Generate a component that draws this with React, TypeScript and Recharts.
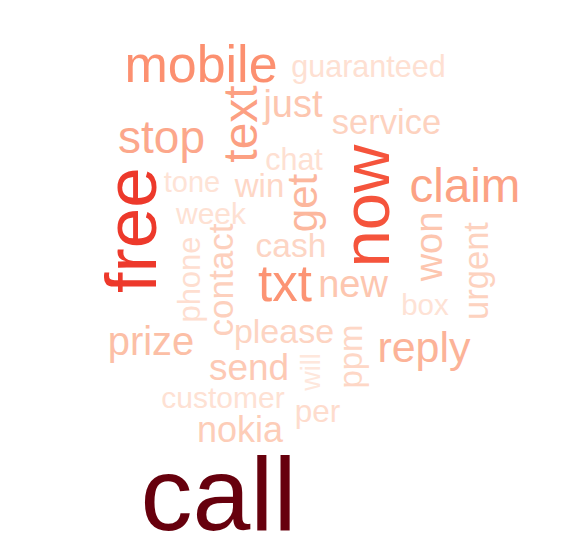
import React from "react";
import { ScatterChart, Scatter, XAxis, YAxis } from "recharts";

// word cloud content
const words = [
  "call", "free", "now", "mobile", "txt", "text", "claim", "stop", "reply", "get",
  "prize", "just", "new", "won", "send", "nokia", "contact", "service", "urgent", "please",
  "cash", "win", "ppm", "per", "phone", "guaranteed", "chat", "customer", "week", "box",
  "tone", "will",
];
// relative frequency weight of each word
const frequency = [
  104, 73, 67, 52, 51, 48, 47.5, 46, 43, 42,
  40, 38, 38, 38, 37, 36, 35, 34.5, 34.5, 34,
  33.5, 33, 33, 31.5, 31, 30.5, 30.5, 30, 30, 29.5,
  29, 27,
];
// placement of each word in the cloud (layout coordinates)
const placeX = [
  218.5, 156, 389, 201, 285, 257, 465, 161.5, 424, 317,
  151, 293, 353, 442, 249, 240, 233, 386.5, 488, 284,
  291, 259.5, 362, 317.5, 200, 368.5, 294, 223, 211, 425,
  192, 320,
];
const placeY = [
  530, 230, 206, 82, 301, 124, 202, 153, 362, 203,
  355, 117, 297, 246.5, 380, 442, 280, 134, 271, 343,
  257, 197, 356.5, 422, 279.5, 77, 170, 408, 224, 315,
  192, 372,
];
const vertical = [
  false, true, true, false, false, true, false, false, false, true,
  false, false, false, true, false, false, true, false, true, false,
  false, false, true, false, true, false, false, false, false, false,
  false, true,
];

const data = words.map((w, i) => ({
  word: w,
  count: frequency[i],
  x: placeX[i],
  y: placeY[i],
  vertical: vertical[i],
}));

const REDS = [
  [255, 245, 240],
  [254, 224, 210],
  [252, 187, 161],
  [252, 146, 114],
  [251, 106, 74],
  [239, 59, 44],
  [203, 24, 29],
  [165, 15, 21],
  [103, 0, 13],
];

function reds(t: number): string {
  const c = Math.max(0, Math.min(1, t)) * (REDS.length - 1);
  const i = Math.min(REDS.length - 2, Math.floor(c));
  const f = c - i;
  const a = REDS[i];
  const b = REDS[i + 1];
  const m = (k: number) => Math.round(a[k] + (b[k] - a[k]) * f);
  return `rgb(${m(0)},${m(1)},${m(2)})`;
}

const maxCount = Math.max(...frequency);
const MAX_FONT = 104;
const fontSize = (c: number) => (MAX_FONT * c) / maxCount;
const colorOf = (c: number) => reds((c - 20) / (maxCount - 20));

const WordShape = (props: any) => {
  const { cx, cy, payload } = props;
  if (cx == null || cy == null) return null;
  const fs = fontSize(payload.count);
  return (
    <text
      x={cx}
      y={cy}
      textAnchor="middle"
      fontSize={fs}
      fontFamily="'Liberation Sans', Arial, sans-serif"
      fill={colorOf(payload.count)}
      transform={payload.vertical ? `rotate(-90, ${cx}, ${cy})` : undefined}
    >
      {payload.word}
    </text>
  );
};

export default function App() {
  return (
    <div style={{ position: "absolute", left: 0, top: 0, width: 572, height: 550, background: "#ffffff" }}>
      <ScatterChart width={572} height={550} margin={{ top: 0, right: 0, bottom: 0, left: 0 }}>
        <XAxis type="number" dataKey="x" domain={[0, 572]} hide allowDataOverflow />
        <YAxis type="number" dataKey="y" domain={[0, 550]} reversed hide allowDataOverflow />
        <Scatter data={data} isAnimationActive={false} shape={WordShape} />
      </ScatterChart>
    </div>
  );
}
